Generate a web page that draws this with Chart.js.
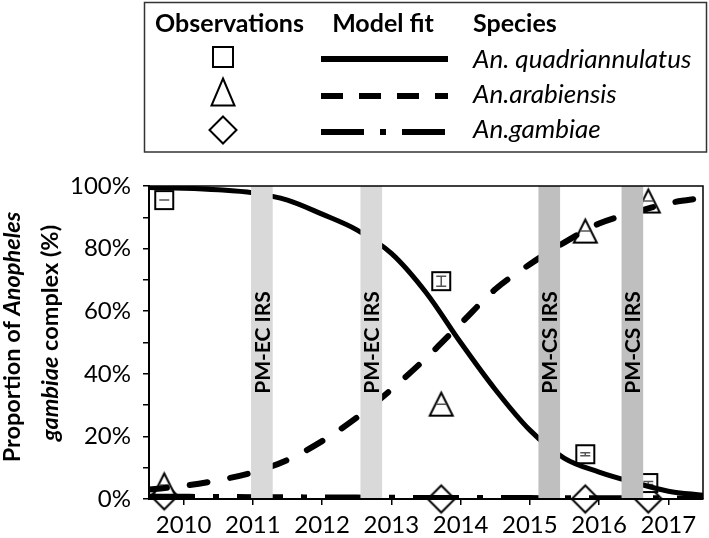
<!DOCTYPE html>
<html><head><meta charset="utf-8">
<script src="https://cdn.jsdelivr.net/npm/chart.js@4.4.0/dist/chart.umd.min.js"></script>
<style>html,body{margin:0;padding:0;background:#fff;}#wrap{width:709px;height:538px;position:relative;}</style>
</head><body><div id="wrap"><canvas id="c" width="709" height="538"></canvas></div>
<script>
// ---------------- data ----------------
const yearLabels = ['2010','2011','2012','2013','2014','2015','2016','2017'];
const yTickLabels = ['0%','','20%','','40%','','60%','','80%','','100%'];

const fitYears = [2010,2010.5,2011,2011.5,2012,2012.5,2013,2013.5,2014,2014.5,2015,2015.5,2016,2016.5,2017,2017.5,2018];
const quadFit  = [99.5,99.3,98.8,97.8,95.5,91,86,78.5,66,50,35,22,13,8.6,5.3,2.5,1.2];
const arabFit  = [3,4.2,6,8.5,12.5,18.5,26,35,45,56,67,75,82,88,91.5,94.5,96.2];
const gambFit  = [0.9,0.85,0.8,0.75,0.7,0.65,0.6,0.55,0.5,0.5,0.5,0.45,0.4,0.4,0.4,0.35,0.3];

const obsYears = [2010.22,2014.22,2016.30,2017.21];
const quadObs  = [95.5,69.6,14.3,5.1];
const quadLow  = [95.5,68.0,13.8,4.6];
const quadHigh = [95.5,71.2,14.8,5.6];
const arabObs  = [4.5,30.3,85.6,95.2];
const arabLow  = [4.5,30.3,85.6,95.2];
const arabHigh = [4.5,30.3,85.6,95.2];
const gambObs  = [1.0,0,0,0];
const gambLow  = [1.0,0,0,0];
const gambHigh = [1.0,0,0,0];

const irsYears  = [2011.63,2013.21,2015.78,2016.98];
const irsLabels = ['PM-EC IRS','PM-EC IRS','PM-CS IRS','PM-CS IRS'];
const irsColors = ['#d9d9d9','#d9d9d9','#bfbfbf','#bfbfbf'];

const legendHeaders = ['Observations','Model fit','Species'];
const speciesNames  = ['An. quadriannulatus','An.arabiensis','An.gambiae'];
const yTitle1 = [['Proportion of ',false],['Anopheles',true]];
const yTitle2 = [['gambiae',true],[' complex (%)',false]];

// ---------------- helpers ----------------
const FONT = 'Lato';
function drawShape(g, shape, cx, cy, w, h, lw){
  g.save();
  g.beginPath();
  if(shape==='square'){ g.rect(cx-w/2, cy-h/2, w, h); }
  else if(shape==='triangle'){ g.moveTo(cx, cy-h/2); g.lineTo(cx+w/2, cy+h/2); g.lineTo(cx-w/2, cy+h/2); g.closePath(); }
  else { g.moveTo(cx, cy-h/2); g.lineTo(cx+w/2, cy); g.lineTo(cx, cy+h/2); g.lineTo(cx-w/2, cy); g.closePath(); }
  g.fillStyle='#fff'; g.fill();
  g.lineWidth=lw; g.strokeStyle='#000'; g.lineJoin='miter'; g.stroke();
  g.restore();
}
function markerCanvas(shape,w,h,lw){
  const pad=3; const c=document.createElement('canvas');
  c.width=w+2*pad; c.height=h+2*pad;
  drawShape(c.getContext('2d'),shape,c.width/2,c.height/2,w,h,lw);
  return c;
}
const pts = (xs,ys)=>xs.map((x,i)=>({x:x,y:ys[i]}));

const errLow  = {0:quadLow,1:arabLow,2:gambLow};
const errHigh = {0:quadHigh,1:arabHigh,2:gambHigh};

const errorBarPlugin = {
  id:'errbars',
  afterDatasetDraw(chart,args){
    if(!(args.index in errLow)) return;
    const ctx=chart.ctx, xs=chart.scales.x, ys=chart.scales.y;
    const lo=errLow[args.index], hi=errHigh[args.index];
    ctx.save(); ctx.strokeStyle='#555'; ctx.lineWidth=1.5;
    obsYears.forEach((yr,i)=>{
      const x=xs.getPixelForValue(yr), y1=ys.getPixelForValue(lo[i]), y2=ys.getPixelForValue(hi[i]);
      ctx.beginPath();
      ctx.moveTo(x-5,y1); ctx.lineTo(x+5,y1);
      ctx.moveTo(x-5,y2); ctx.lineTo(x+5,y2);
      ctx.moveTo(x,y1); ctx.lineTo(x,y2);
      ctx.stroke();
    });
    ctx.restore();
  }
};

const overlayPlugin = {
  id:'overlay',
  afterDatasetsDraw(chart){
    const ctx=chart.ctx, a=chart.chartArea, xs=chart.scales.x;
    ctx.save();
    ctx.fillStyle='#000';
    ctx.font='bold 21px '+FONT;
    ctx.textAlign='center'; ctx.textBaseline='middle';
    irsYears.forEach((yr,i)=>{
      const x=xs.getPixelForValue(yr);
      ctx.save(); ctx.translate(x+1,(a.top+a.bottom)/2); ctx.rotate(-Math.PI/2);
      ctx.fillText(irsLabels[i],0,0); ctx.restore();
    });
    ctx.strokeStyle='#000';
    ctx.lineWidth=1.5;
    ctx.beginPath(); ctx.moveTo(a.left,a.top); ctx.lineTo(a.right,a.top); ctx.lineTo(a.right,a.bottom); ctx.stroke();
    ctx.lineWidth=2;
    ctx.beginPath(); ctx.moveTo(a.left,a.top); ctx.lineTo(a.left,a.bottom); ctx.lineTo(a.right,a.bottom); ctx.stroke();
    ctx.restore();
  },
  afterDraw(chart){
    const ctx=chart.ctx;
    ctx.save();
    ctx.fillStyle='#000';
    const drawTitle=(parts,bx,cy)=>{
      ctx.save(); ctx.translate(bx,cy); ctx.rotate(-Math.PI/2);
      ctx.fillStyle='#000';
      ctx.textBaseline='alphabetic'; ctx.textAlign='left';
      let total=0;
      parts.forEach(p=>{ ctx.font=(p[1]?'italic ':'')+'bold 23.5px '+FONT; total+=ctx.measureText(p[0]).width; });
      let x=-total/2;
      parts.forEach(p=>{ ctx.font=(p[1]?'italic ':'')+'bold 23.5px '+FONT; ctx.fillText(p[0],x,0); x+=ctx.measureText(p[0]).width; });
      ctx.restore();
    };
    drawTitle(yTitle1,20,337);
    drawTitle(yTitle2,58,333);

    // legend box
    ctx.strokeStyle='#333'; ctx.lineWidth=1.5;
    ctx.strokeRect(144.5,2.5,562,149.5);
    // symbols
    drawShape(ctx,'square',223,57,20,20,2);
    drawShape(ctx,'triangle',223,92,23,27,2);
    drawShape(ctx,'diamond',223,130,27,27,2);
    // line samples
    const lines=[[],[22,16],[43,16,6,16]]; const ly=[59,96,132];
    ctx.strokeStyle='#000'; ctx.lineWidth=6; ctx.lineCap='butt';
    lines.forEach((d,i)=>{ ctx.setLineDash(d); ctx.beginPath(); ctx.moveTo(321,ly[i]); ctx.lineTo(448,ly[i]); ctx.stroke(); });
    ctx.setLineDash([]);
    // texts
    ctx.fillStyle='#000';
    ctx.textBaseline='alphabetic';
    ctx.font='bold 25px '+FONT;
    ctx.textAlign='center';
    ctx.fillText(legendHeaders[0],229.5,32);
    ctx.fillText(legendHeaders[1],383,32);
    ctx.textAlign='left';
    ctx.fillText(legendHeaders[2],473,32);
    ctx.font='italic 26px '+FONT;
    const sy=[68,103,138];
    speciesNames.forEach((s,i)=>ctx.fillText(s,473,sy[i]));
    ctx.restore();
  }
};

function build(){
  new Chart(document.getElementById('c'),{
    type:'scatter',
    data:{datasets:[
      {label:'quadObs',type:'scatter',data:pts(obsYears,quadObs),pointStyle:markerCanvas('square',18,18,2),order:3,clip:false},
      {label:'arabObs',type:'scatter',data:pts(obsYears,arabObs),pointStyle:markerCanvas('triangle',23,23,2),order:3,clip:false},
      {label:'gambObs',type:'scatter',data:pts(obsYears,gambObs),pointStyle:markerCanvas('diamond',27,27,2),order:3,clip:false},
      {label:'quadFit',type:'line',data:pts(fitYears,quadFit),borderColor:'#000',borderWidth:5,pointRadius:0,cubicInterpolationMode:'monotone',fill:false,order:2},
      {label:'arabFit',type:'line',data:pts(fitYears,arabFit),borderColor:'#000',borderWidth:6,borderDash:[18,23],borderCapStyle:'round',pointRadius:0,cubicInterpolationMode:'monotone',fill:false,order:2},
      {label:'gambFit',type:'line',data:pts(fitYears,gambFit),borderColor:'#000',borderWidth:5,borderDash:[46,18,6,18],pointRadius:0,cubicInterpolationMode:'monotone',fill:false,order:2},
      {label:'irs',type:'bar',data:pts(irsYears,irsYears.map(()=>100)),backgroundColor:irsColors,borderWidth:0,barThickness:21,grouped:false,order:1}
    ]},
    options:{
      responsive:false, animation:false, devicePixelRatio:1,
      layout:{padding:{top:186,right:6,left:0,bottom:0}},
      plugins:{legend:{display:false},tooltip:{enabled:false}},
      scales:{
        x:{type:'linear',min:2010,max:2018,offset:false,
          afterFit(s){s.height=39;},
          grid:{drawOnChartArea:false,drawTicks:true,tickLength:6,color:'#000',lineWidth:1.5},
          border:{display:true,color:'#000',width:2},
          ticks:{stepSize:1,autoSkip:false,maxRotation:0,labelOffset:34.6,padding:6,color:'#000',
            font:{family:FONT,size:24},
            callback:(v,i)=>yearLabels[i]||''}
        },
        y:{type:'linear',min:0,max:100,
          afterFit(s){s.width=149;},
          grid:{drawOnChartArea:false,drawTicks:true,tickLength:6,color:'#000',lineWidth:1.5},
          border:{display:true,color:'#000',width:2},
          ticks:{stepSize:10,autoSkip:false,padding:12,color:'#000',
            font:{family:FONT,size:24},
            callback:(v,i)=>yTickLabels[i]||''}
        }
      }
    },
    plugins:[errorBarPlugin,overlayPlugin]
  });
}
const fl=[ '22px Lato','bold 22px Lato','italic 22px Lato','italic bold 22px Lato'].map(f=>document.fonts.load(f));
Promise.race([Promise.all(fl),new Promise(r=>setTimeout(r,800))]).then(build,build);
</script></body></html>
